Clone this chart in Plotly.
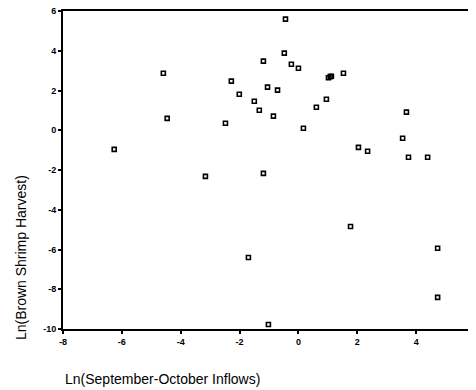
import plotly.graph_objects as go

# Ln(September-October Inflows)
inflows = [-6.26, -4.59, -4.46, -3.16, -0.44, -0.48, -1.19, -0.24, 0.00, -2.28,
           -1.05, -0.71, -2.01, -1.50, -1.33, 0.61, -0.85, -2.48, 0.17, 1.02,
           1.08, 1.12, 1.53, 0.95, 3.67, 3.54, 2.04, 2.35, 3.74, 4.39,
           -1.19, 1.77, -1.70, 4.73, 4.73, -1.02]
# Ln(Brown Shrimp Harvest)
harvest = [-0.96, 2.87, 0.60, -2.32, 5.59, 3.88, 3.48, 3.32, 3.12, 2.47,
           2.17, 2.02, 1.81, 1.46, 1.01, 1.16, 0.71, 0.35, 0.10, 2.64,
           2.70, 2.72, 2.87, 1.56, 0.91, -0.40, -0.86, -1.06, -1.36, -1.36,
           -2.17, -4.84, -6.40, -5.94, -8.41, -9.77]

x_ticks = [-8, -6, -4, -2, 0, 2, 4, 6]
y_ticks = [-10, -8, -6, -4, -2, 0, 2, 4, 6]

fig = go.Figure()
fig.add_trace(go.Scatter(
    x=inflows, y=harvest, mode="markers",
    marker=dict(symbol="square-open", size=4, color="black",
                line=dict(width=1.6, color="black")),
    cliponaxis=False,
))

tickfont = dict(family="Liberation Sans, Arial, sans-serif", size=9,
                color="black", weight="bold")
titlefont = dict(family="Liberation Sans, Arial, sans-serif", size=14, color="black")

# page body adds an 8px offset; the figure is sized so the plot lands where the reference has it
fig.update_layout(
    width=468, height=382,
    margin=dict(l=55, r=1, t=3, b=61),
    paper_bgcolor="white", plot_bgcolor="white",
    showlegend=False,
    xaxis=dict(range=[-8, 6], tickvals=x_ticks, ticktext=[str(v) for v in x_ticks],
               showgrid=False, zeroline=False, showline=True, linecolor="black",
               linewidth=2, mirror=True, ticks="outside", ticklen=3,
               tickcolor="black", tickwidth=2, tickfont=tickfont, automargin=False,
               ticklabeloverflow="allow"),
    yaxis=dict(range=[-10, 6], tickvals=y_ticks, ticktext=[str(v) for v in y_ticks],
               showgrid=False, zeroline=False, showline=True, linecolor="black",
               linewidth=2, mirror=True, ticks="outside", ticklen=3,
               tickcolor="black", tickwidth=2, tickfont=tickfont, automargin=False,
               ticklabeloverflow="allow"),
    annotations=[
        dict(text="Ln(September-October Inflows)", xref="paper", yref="paper",
             x=0, y=-0.157, xanchor="left", yanchor="middle", showarrow=False,
             font=titlefont),
        dict(text="Ln(Brown Shrimp Harvest)", xref="paper", yref="paper",
             x=-0.102, y=0.226, xanchor="center", yanchor="middle", showarrow=False,
             textangle=-90, font=titlefont),
    ],
)

fig.write_html("out.html")
